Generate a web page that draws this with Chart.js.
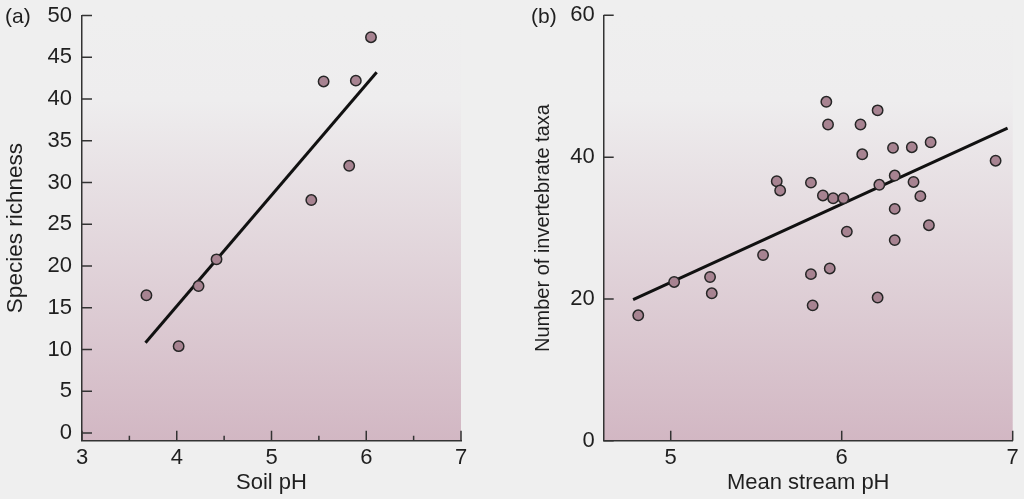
<!DOCTYPE html>
<html>
<head>
<meta charset="utf-8">
<script src="https://cdn.jsdelivr.net/npm/chart.js@4.4.1/dist/chart.umd.min.js"></script>
<style>
  html, body { margin: 0; padding: 0; background: #efefef; }
  #wrap { position: relative; width: 1024px; height: 499px; overflow: hidden; }
  canvas { position: absolute; top: 0; }
  #chartA { left: 0; }
  #chartB { left: 500px; }
</style>
</head>
<body>
<div id="wrap">
  <canvas id="chartA" width="500" height="499"></canvas>
  <canvas id="chartB" width="524" height="499"></canvas>
</div>
<script>
// (a) soil pH vs species richness
const soilPh = [3.68, 4.02, 4.23, 4.42, 5.42, 5.55, 5.82, 5.89, 6.05];
const speciesRichness = [16.5, 10.4, 17.6, 20.8, 27.9, 42.1, 32.0, 42.2, 47.4];
const fitAX = [3.67, 6.11];
const fitAY = [10.8, 43.2];
const yTicksA = [0, 5, 10, 15, 20, 25, 30, 35, 40, 45, 50];
const xTicksA = [3, 4, 5, 6, 7];
const xMinorA = [3.5, 4.5, 5.5, 6.5];

// (b) mean stream pH vs number of invertebrate taxa
const streamPh = [
  5.91, 5.92, 6.21, 6.11, 6.12, 6.30, 6.41, 6.52, 6.90,
  5.62, 5.64, 5.82, 5.89, 5.95, 6.01, 6.22, 6.31, 6.42, 6.46,
  6.31, 6.51, 6.03, 6.31, 5.54, 5.02, 5.23, 5.24, 5.82, 5.93,
  5.83, 6.21, 4.81,
];
const taxaCount = [
  47.8, 44.6, 46.6, 44.6, 40.4, 41.3, 41.4, 42.1, 39.5,
  36.6, 35.3, 36.4, 34.6, 34.2, 34.2, 36.1, 37.4, 36.5, 34.5,
  32.7, 30.4, 29.5, 28.3, 26.2, 22.4, 23.1, 20.8, 23.5, 24.3,
  19.1, 20.2, 17.7,
];
const fitBX = [4.78, 6.97];
const fitBY = [19.9, 44.1];
const yTicksB = [0, 20, 40, 60];
const xTicksB = [5, 6, 7];

const FONT = "'Liberation Sans', Arial, Helvetica, sans-serif";
const TEXT = '#1f1f1f';
const AXIS = '#333333';
const DOT_FILL = '#a78391';
const DOT_EDGE = '#262626';

const toPts = (xs, ys) => xs.map((x, i) => ({ x, y: ys[i] }));

// plot background: light grey fading to mauve at the bottom
const gradientBg = {
  id: 'gradientBg',
  beforeDraw(chart) {
    const { ctx, chartArea: a } = chart;
    const g = ctx.createLinearGradient(0, a.top, 0, a.bottom);
    g.addColorStop(0, '#efefef');
    g.addColorStop(0.2, '#eeedee');
    g.addColorStop(1, '#d2b7c3');
    ctx.save();
    ctx.fillStyle = g;
    ctx.fillRect(a.left, a.top, a.right - a.left, a.bottom - a.top);
    ctx.restore();
  },
};

// tick marks pointing into the plot, plus the panel letter
const innerTicks = {
  id: 'innerTicks',
  afterDraw(chart, args, opts) {
    const { ctx, chartArea: a } = chart;
    const xs = chart.scales.x;
    const ys = chart.scales.y;
    ctx.save();
    ctx.strokeStyle = AXIS;
    ctx.lineWidth = 1.5;
    ctx.beginPath();
    opts.xMajor.forEach((v) => {
      const px = xs.getPixelForValue(v);
      ctx.moveTo(px, a.bottom);
      ctx.lineTo(px, a.bottom - 10);
    });
    (opts.xMinor || []).forEach((v) => {
      const px = xs.getPixelForValue(v);
      ctx.moveTo(px, a.bottom);
      ctx.lineTo(px, a.bottom - 5);
    });
    opts.yMajor.forEach((v) => {
      const py = ys.getPixelForValue(v);
      ctx.moveTo(a.left, py);
      ctx.lineTo(a.left + 10, py);
    });
    ctx.stroke();

    ctx.fillStyle = TEXT;
    ctx.font = `21px ${FONT}`;
    ctx.textBaseline = 'middle';
    ctx.textAlign = 'left';
    ctx.fillText(opts.letter, opts.letterX, opts.letterY);
    ctx.restore();
  },
};

function makeChart(el, cfg) {
  return new Chart(el, {
    type: 'scatter',
    data: {
      datasets: [
        {
          data: toPts(cfg.xs, cfg.ys),
          backgroundColor: DOT_FILL,
          borderColor: DOT_EDGE,
          borderWidth: 1.5,
          pointRadius: 5.2,
        },
        {
          data: toPts(cfg.fitX, cfg.fitY),
          showLine: true,
          borderColor: '#111111',
          borderWidth: 3,
          pointRadius: 0,
        },
      ],
    },
    options: {
      responsive: false,
      animation: false,
      layout: { padding: cfg.padding },
      plugins: {
        legend: { display: false },
        tooltip: { enabled: false },
        innerTicks: cfg.ticksOpts,
      },
      scales: {
        x: {
          type: 'linear',
          min: cfg.xMin,
          max: cfg.xMax,
          afterBuildTicks: (s) => { s.ticks = cfg.xTicks.map((v) => ({ value: v })); },
          afterFit: (s) => { s.height = cfg.xHeight; },
          grid: { display: false, drawTicks: false },
          border: { display: true, color: AXIS, width: 1.5 },
          ticks: { color: TEXT, font: { family: FONT, size: 22 }, padding: 4, maxRotation: 0 },
          title: {
            display: true,
            text: cfg.xTitle,
            color: TEXT,
            font: { family: FONT, size: 22 },
            padding: { top: 0, bottom: 3 },
          },
        },
        y: {
          type: 'linear',
          min: cfg.yMin,
          max: cfg.yMax,
          afterBuildTicks: (s) => { s.ticks = cfg.yTicks.map((v) => ({ value: v })); },
          afterFit: (s) => {
            s.width = cfg.yWidth;
            s.paddingTop = 0;
            s.paddingBottom = 0;
          },
          grid: { display: false, drawTicks: false },
          border: { display: true, color: AXIS, width: 1.5 },
          ticks: { color: TEXT, font: { family: FONT, size: 22 }, padding: cfg.yPad },
          title: {
            display: true,
            text: cfg.yTitle,
            color: TEXT,
            font: { family: FONT, size: cfg.yTitleSize },
            padding: { top: cfg.yTitlePad, bottom: 0 },
          },
        },
      },
    },
    plugins: [gradientBg, innerTicks],
  });
}

makeChart(document.getElementById('chartA'), {
  xs: soilPh, ys: speciesRichness, fitX: fitAX, fitY: fitAY,
  xMin: 3, xMax: 7, yMin: -0.92, yMax: 50,
  xTicks: xTicksA, yTicks: yTicksA,
  xTitle: 'Soil pH', yTitle: 'Species richness',
  padding: { top: 15.5, right: 39, bottom: 0, left: 0 },
  xHeight: 58.3, yWidth: 82, yPad: 10, yTitlePad: 2.5, yTitleSize: 22.5,
  ticksOpts: { xMajor: xTicksA, xMinor: xMinorA, yMajor: yTicksA, letter: '(a)', letterX: 5, letterY: 17 },
});

makeChart(document.getElementById('chartB'), {
  xs: streamPh, ys: taxaCount, fitX: fitBX, fitY: fitBY,
  xMin: 4.608, xMax: 7, yMin: 0, yMax: 60,
  xTicks: xTicksB, yTicks: yTicksB,
  xTitle: 'Mean stream pH', yTitle: 'Number of invertebrate taxa',
  padding: { top: 15.3, right: 11.3, bottom: 0, left: 0 },
  xHeight: 58.2, yWidth: 103.7, yPad: 9, yTitlePad: 31, yTitleSize: 20,
  ticksOpts: { xMajor: xTicksB, yMajor: yTicksB, letter: '(b)', letterX: 31, letterY: 17 },
});
</script>
</body>
</html>
